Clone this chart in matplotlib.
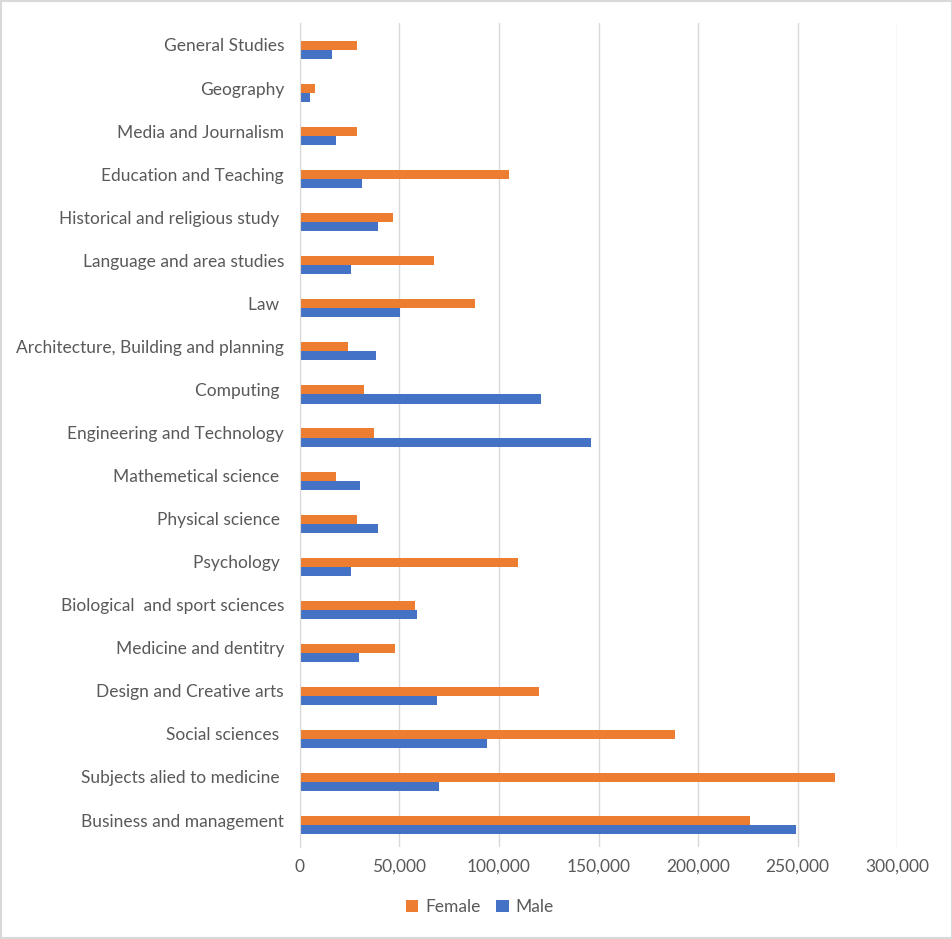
import matplotlib
matplotlib.use("Agg")
import matplotlib.pyplot as plt
from matplotlib.patches import Rectangle
import matplotlib.transforms as mtransforms
import numpy as np

categories = [
    "Business and management",
    "Subjects alied to medicine ",
    "Social sciences ",
    "Design and Creative arts",
    "Medicine and dentitry",
    "Biological  and sport sciences",
    "Psychology ",
    "Physical science ",
    "Mathemetical science ",
    "Engineering and Technology",
    "Computing ",
    "Architecture, Building and planning",
    "Law ",
    "Language and area studies",
    "Historical and religious study ",
    "Education and Teaching",
    "Media and Journalism",
    "Geography",
    "General Studies",
]
female = [226000, 269000, 188500, 120300, 47600, 58000, 109300, 28800, 17900,
          37000, 32400, 23900, 87700, 67200, 46900, 104800, 28800, 7400, 28400]
male = [249200, 69600, 93800, 68700, 29600, 59000, 25500, 39000, 30400,
        146100, 120900, 38000, 50100, 25500, 39000, 31000, 18300, 4800, 16300]
xticks = [0, 50000, 100000, 150000, 200000, 250000, 300000]

W, H = 953, 939
fig = plt.figure(figsize=(W / 100, H / 100), dpi=100)
plt.rcParams['font.family'] = ['Lato', 'DejaVu Sans']

ax = fig.add_axes([300 / W, (H - 847) / H, (897 - 300) / W, (847 - 23) / H])

y = np.arange(len(categories))
bh = 0.21
ax.barh(y + bh / 2, female, height=bh, color="#ED7D31", label="Female", zorder=3)
ax.barh(y - bh / 2, male, height=bh, color="#4472C4", label="Male", zorder=3)

ax.set_xlim(0, 300000)
ax.set_ylim(-0.51, len(categories) - 1 + 0.627)
ax.set_xticks(xticks)
ax.set_xticklabels([f"{v:,}" for v in xticks])
ax.set_yticks(y)
ax.set_yticklabels(categories)
ax.tick_params(axis="both", length=0, colors="#595959", labelsize=12.5)
ax.tick_params(axis="y", pad=11.5)
ax.tick_params(axis="x", pad=8.5)
for lbl in ax.get_yticklabels():
    lbl.set_transform(lbl.get_transform() + mtransforms.ScaledTranslation(0, 5 / 100, fig.dpi_scale_trans))

ax.grid(axis="x", color="#D9D9D9", linewidth=1, zorder=0)
for s in ["top", "right", "bottom"]:
    ax.spines[s].set_visible(False)
ax.spines["left"].set_color("#D9D9D9")
ax.spines["left"].set_zorder(4)

handles, labels = ax.get_legend_handles_labels()
leg = fig.legend(handles, labels, loc="center", bbox_to_anchor=(480 / W, 1 - 907 / H),
                 ncol=2, frameon=False, fontsize=12.5, handlelength=0.7, handleheight=0.7,
                 columnspacing=0.9, handletextpad=0.4, labelcolor="#595959")

fig.patches.append(Rectangle((1 / W, 1 / H), 1 - 2 / W, 1 - 2 / H, transform=fig.transFigure,
                             fill=False, edgecolor="#D9D9D9", linewidth=1.5))

fig.savefig("out.png", dpi=100)
